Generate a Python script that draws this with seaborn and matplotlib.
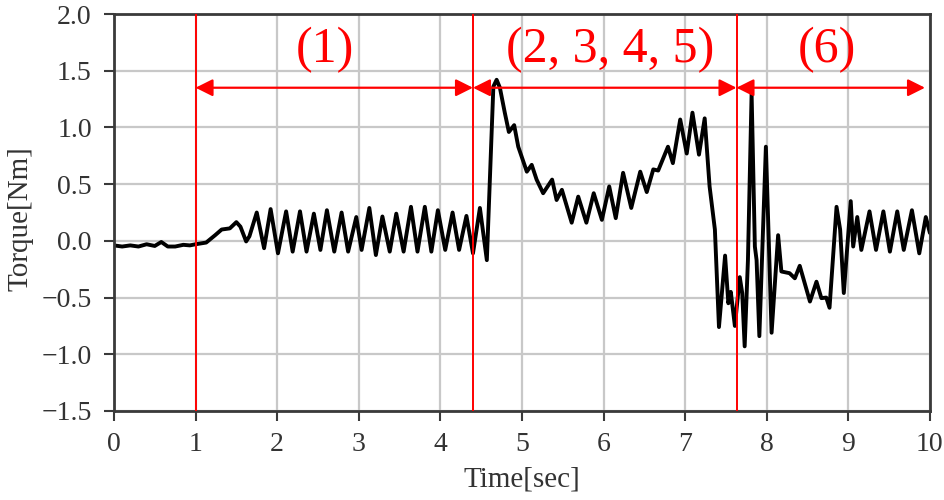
import matplotlib
matplotlib.use("Agg")
import matplotlib.pyplot as plt
import seaborn as sns
import pandas as pd

# ---- data ----
time_sec = [
    0.0, 0.1, 0.2, 0.3, 0.4, 0.5, 0.58, 0.66, 0.75, 0.85, 0.93, 1.0,
    1.13, 1.24, 1.32, 1.42, 1.50, 1.55, 1.62, 1.66,
    1.75, 1.84, 1.92, 2.01, 2.11, 2.19, 2.28, 2.36, 2.45, 2.53, 2.61, 2.70,
    2.79, 2.87, 2.97, 3.035, 3.13, 3.21, 3.29, 3.38, 3.46, 3.55, 3.64, 3.72,
    3.81, 3.89, 3.97, 4.06, 4.15, 4.23, 4.32, 4.40, 4.485, 4.57,
    4.65, 4.69, 4.73, 4.79, 4.84, 4.905, 4.955, 5.06, 5.12, 5.18, 5.26,
    5.37, 5.425, 5.49, 5.61, 5.69, 5.79, 5.88, 5.98, 6.07, 6.15, 6.24,
    6.34, 6.45, 6.53, 6.61, 6.67, 6.79, 6.85, 6.94, 7.02, 7.09, 7.17, 7.24,
    7.30, 7.365, 7.415, 7.49, 7.53, 7.56, 7.61, 7.67, 7.70, 7.73,
    7.77, 7.815, 7.855, 7.876, 7.91, 7.99, 8.06, 8.14, 8.18, 8.28, 8.345,
    8.405, 8.53, 8.61, 8.67, 8.73, 8.77, 8.856, 8.90, 8.945, 9.03, 9.06,
    9.11, 9.16, 9.26, 9.34, 9.43, 9.51, 9.60, 9.68, 9.78, 9.87, 9.95, 10.0,
]
torque_nm = [
    -0.04, -0.05, -0.04, -0.05, -0.03, -0.045, -0.01, -0.05, -0.05, -0.035, -0.04, -0.03,
    -0.015, 0.05, 0.10, 0.11, 0.165, 0.125, -0.005, 0.04,
    0.25, -0.065, 0.28, -0.11, 0.26, -0.095, 0.26, -0.095, 0.24, -0.08, 0.27, -0.095,
    0.25, -0.095, 0.21, -0.08, 0.29, -0.125, 0.215, -0.095, 0.24, -0.095, 0.30, -0.095,
    0.30, -0.095, 0.27, -0.08, 0.25, -0.08, 0.22, -0.11, 0.29, -0.17,
    1.36, 1.42, 1.35, 1.13, 0.96, 1.02, 0.83, 0.61, 0.67, 0.54, 0.42,
    0.54, 0.36, 0.45, 0.16, 0.39, 0.16, 0.42, 0.185, 0.48, 0.20, 0.60,
    0.29, 0.61, 0.43, 0.63, 0.62, 0.83, 0.685, 1.07, 0.77, 1.13, 0.76, 1.08,
    0.48, 0.10, -0.76, -0.13, -0.55, -0.45, -0.75, -0.32, -0.46, -0.93,
    -0.17, 1.30, -0.05, -0.17, -0.84, 0.83, -0.81, 0.05, -0.27, -0.285, -0.33,
    -0.22, -0.535, -0.36, -0.505, -0.50, -0.59, 0.30, 0.10, -0.46, 0.35, -0.05,
    0.21, -0.08, 0.26, -0.08, 0.26, -0.095, 0.26, -0.08, 0.27, -0.11, 0.21, 0.07,
]
phase_bounds = [1.0, 4.4, 7.63]
phase_labels = ["(1)", "(2, 3, 4, 5)", "(6)"]
arrow_spans = [(1.0, 4.4), (4.4, 7.63), (7.63, 9.94)]
label_x = [2.59, 6.08, 8.74]
x_ticks = [0, 1, 2, 3, 4, 5, 6, 7, 8, 9, 10]
y_ticks = [-1.5, -1.0, -0.5, 0.0, 0.5, 1.0, 1.5, 2.0]

df = pd.DataFrame({"Time[sec]": time_sec, "Torque[Nm]": torque_nm})

sns.set_style("whitegrid")
plt.rcParams["font.family"] = ["Liberation Serif", "DejaVu Serif"]
plt.rcParams["axes.unicode_minus"] = True

fig = plt.figure(figsize=(9.45, 5.0), dpi=100)
ax = fig.add_axes([0.1206, 0.178, 0.8634, 0.794])

sns.lineplot(data=df, x="Time[sec]", y="Torque[Nm]", ax=ax, color="black",
             linewidth=2.8, estimator=None, sort=False)
ax.lines[0].set_solid_joinstyle("round")

ax.set_xlim(0, 10)
ax.set_ylim(-1.5, 2.0)
ax.set_xticks(x_ticks)
ax.set_yticks(y_ticks)
ax.set_xticklabels([str(t) for t in x_ticks])
ax.set_yticklabels([f"{v:.1f}".replace("-", "\u2212") for v in y_ticks])
ax.grid(True, color="#c8c8c8", linewidth=1.6)
ax.set_axisbelow(True)
for s in ax.spines.values():
    s.set_color("#3a3a3a")
    s.set_linewidth(2.0)
ax.tick_params(axis="both", which="major", labelsize=20, length=7, width=1.5,
               color="#3a3a3a", direction="out", bottom=True, left=True,
               labelcolor="#333333")
ax.tick_params(axis="x", pad=8)
ax.tick_params(axis="y", pad=9)
ax.set_xlabel("Time[sec]", fontsize=21, color="#333333")
ax.set_ylabel("Torque[Nm]", fontsize=21, color="#333333")
ax.xaxis.set_label_coords(0.5, -0.14)
ax.yaxis.set_label_coords(-0.099, 0.484)

arrow_y = 1.35
for xb in phase_bounds:
    ax.axvline(xb, color="red", linewidth=1.4, zorder=3)
for (x0, x1) in arrow_spans:
    ax.annotate("", xy=(x1, arrow_y), xytext=(x0, arrow_y),
                arrowprops=dict(arrowstyle="<|-|>", color="red", lw=1.6,
                                mutation_scale=26, shrinkA=0, shrinkB=0),
                zorder=4)
for lx, lab in zip(label_x, phase_labels):
    ax.text(lx, 1.68, lab, color="red", fontsize=36, ha="center", va="center",
            zorder=5)

fig.savefig("out.png", dpi=100)
